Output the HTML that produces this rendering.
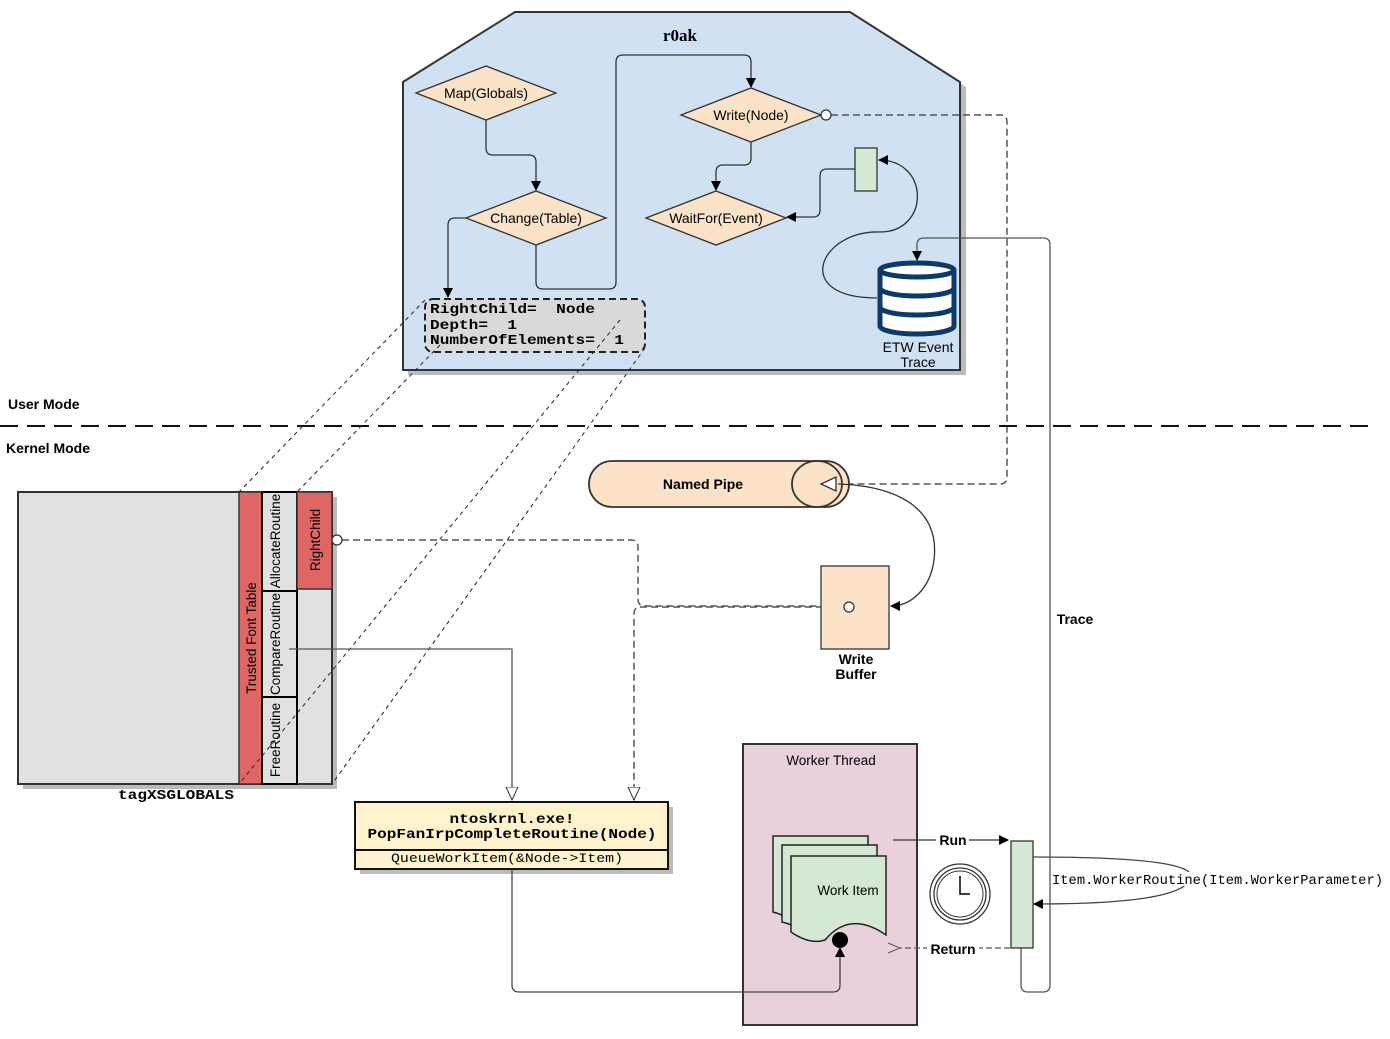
<!DOCTYPE html>
<html><head><meta charset="utf-8"><style>
html,body{margin:0;padding:0;background:#fff;}
svg{display:block;}
text{font-family:"Liberation Sans",sans-serif;}
.m{font-family:"Liberation Mono",monospace;font-weight:bold;white-space:pre;}
.mn{font-family:"Liberation Mono",monospace;white-space:pre;}
</style></head><body>
<svg width="1390" height="1039" viewBox="0 0 1390 1039" xmlns="http://www.w3.org/2000/svg" xml:space="preserve">
<defs>
<marker id="a" markerWidth="10" markerHeight="10" refX="9" refY="5" orient="auto" markerUnits="userSpaceOnUse"><path d="M0,0 L10,5 L0,10 z" fill="#000"/></marker>
<marker id="ho" markerWidth="14" markerHeight="14" refX="13" refY="7" orient="auto" markerUnits="userSpaceOnUse"><path d="M0,1 L13,7 L0,13 z" fill="#fff" stroke="#333"/></marker>
<marker id="op" markerWidth="14" markerHeight="12" refX="1" refY="6" orient="auto" markerUnits="userSpaceOnUse"><path d="M13,1 L1,6 L13,11" fill="none" stroke="#555"/></marker>
</defs>
<polygon points="408,87 520,17 855,17 966,87 966,375 408,375" fill="#bbb"/>
<polygon points="403,82 515,12 850,12 960,82 960,370 403,370" fill="#cfe1f2" stroke="#333" stroke-width="2"/>
<text x="680" y="41" font-weight="bold" font-size="17" text-anchor="middle" style="font-family:'Liberation Serif',serif">r0ak</text>
<path d="M486,120 V148 Q486,155 493,155 H529 Q536,155 536,162 V190" fill="none" stroke="#333" stroke-width="1.3" marker-end="url(#a)"/>
<path d="M536,245 V282 Q536,289 543,289 H609 Q616,289 616,282 V62 Q616,55 623,55 H744 Q751,55 751,62 V87" fill="none" stroke="#333" stroke-width="1.3" marker-end="url(#a)"/>
<path d="M751,142 V158 Q751,165 744,165 H723 Q716,165 716,172 V190" fill="none" stroke="#333" stroke-width="1.3" marker-end="url(#a)"/>
<path d="M466,218 H455 Q448,218 448,225 V297" fill="none" stroke="#333" stroke-width="1.3" marker-end="url(#a)"/>
<path d="M855,169 H827 Q820,169 820,176 V210 Q820,217 813,217 H787" fill="none" stroke="#333" stroke-width="1.3" marker-end="url(#a)"/>
<path d="M877,298 C790,298 820,230 880,232 C930,232 930,160 879,160" fill="none" stroke="#333" stroke-width="1.3" marker-end="url(#a)"/>
<polygon points="416,93 486,66 556,93 486,120" fill="#fce3c8" stroke="#333" stroke-width="1.3"/>
<text x="486" y="98" font-size="14" text-anchor="middle">Map(Globals)</text>
<polygon points="681,115 751,88 821,115 751,142" fill="#fce3c8" stroke="#333" stroke-width="1.3"/>
<text x="751" y="120" font-size="14" text-anchor="middle">Write(Node)</text>
<polygon points="466,218 536,191 606,218 536,245" fill="#fce3c8" stroke="#333" stroke-width="1.3"/>
<text x="536" y="223" font-size="14" text-anchor="middle">Change(Table)</text>
<polygon points="646,218 716,191 786,218 716,245" fill="#fce3c8" stroke="#333" stroke-width="1.3"/>
<text x="716" y="223" font-size="14" text-anchor="middle">WaitFor(Event)</text>
<rect x="855" y="148" width="22" height="43" fill="#d5e8d4" stroke="#333" stroke-width="1.3"/>
<g stroke="#0b3a6b" stroke-width="5" fill="#fff">
<path d="M880,270 V326 A37,8 0 0 0 954,326 V270"/>
<ellipse cx="917" cy="270" rx="37" ry="7"/>
<path d="M880,288 A37,8 0 0 0 954,288" fill="none"/>
<path d="M880,307 A37,8 0 0 0 954,307" fill="none"/>
</g>
<text x="918" y="352" font-size="14" text-anchor="middle">ETW Event</text>
<text x="918" y="367" font-size="14" text-anchor="middle">Trace</text>
<rect x="425" y="299" width="220" height="53" rx="8" fill="#d9d9d9" stroke="#222" stroke-width="2" stroke-dasharray="7,4"/>
<text class="m" x="430" y="313" font-size="14" textLength="165" lengthAdjust="spacingAndGlyphs">RightChild=  Node</text>
<text class="m" x="430" y="329" font-size="14" textLength="87" lengthAdjust="spacingAndGlyphs">Depth=  1</text>
<text class="m" x="430" y="344" font-size="14" textLength="194" lengthAdjust="spacingAndGlyphs">NumberOfElements=  1</text>
<path d="M831,115 H1000 Q1007,115 1007,122 V477 Q1007,484 1000,484 H836" fill="none" stroke="#555" stroke-width="1.5" stroke-dasharray="7,4"/>
<circle cx="826" cy="115" r="5" fill="#fff" stroke="#333" stroke-width="1.3"/>
<text x="8" y="409" font-size="14" font-weight="bold">User Mode</text>
<line x1="0" y1="426" x2="1375" y2="426" stroke="#111" stroke-width="2" stroke-dasharray="18,9"/>
<text x="6" y="453" font-size="14" font-weight="bold">Kernel Mode</text>
<rect x="23" y="497" width="314" height="292" fill="#bbb"/>
<rect x="18" y="492" width="314" height="292" fill="#e1e1e1" stroke="#333" stroke-width="2"/>
<rect x="239" y="492" width="23" height="292" fill="#e06666" stroke="#333" stroke-width="1.5"/>
<rect x="262" y="492" width="35" height="99" fill="#e1e1e1" stroke="#000" stroke-width="2"/>
<rect x="262" y="591" width="35" height="106" fill="#e1e1e1" stroke="#000" stroke-width="2"/>
<rect x="262" y="697" width="35" height="87" fill="#e1e1e1" stroke="#000" stroke-width="2"/>
<rect x="297" y="492" width="35" height="97" fill="#e06666" stroke="#333" stroke-width="1.5"/>
<text transform="translate(256,638) rotate(-90)" font-size="13.5" text-anchor="middle">Trusted Font Table</text>
<text transform="translate(280,541) rotate(-90)" font-size="13.5" text-anchor="middle">AllocateRoutine</text>
<text transform="translate(280,644) rotate(-90)" font-size="13.5" text-anchor="middle">CompareRoutine</text>
<text transform="translate(280,740) rotate(-90)" font-size="13.5" text-anchor="middle">FreeRoutine</text>
<text transform="translate(320,540) rotate(-90)" font-size="13.5" text-anchor="middle">RightChild</text>
<text class="m" x="118" y="799" font-size="14" textLength="116" lengthAdjust="spacingAndGlyphs">tagXSGLOBALS</text>
<g stroke="#222" stroke-width="1" stroke-dasharray="4,4" fill="none">
<line x1="425" y1="300" x2="239" y2="492"/>
<line x1="440" y1="345" x2="297" y2="492"/>
<line x1="620" y1="320" x2="239" y2="784"/>
<line x1="645" y1="348" x2="332" y2="784"/>
</g>
<path d="M342,540 H631 Q638,540 638,547 V599 Q638,606 645,606 H845" fill="none" stroke="#555" stroke-width="1.5" stroke-dasharray="7,4"/>
<path d="M845,607 H641 Q634,607 634,614 V800" fill="none" stroke="#555" stroke-width="1.5" stroke-dasharray="7,4" marker-end="url(#ho)"/>
<circle cx="337" cy="540" r="5" fill="#fff" stroke="#333" stroke-width="1.3"/>
<path d="M289,649 H512 V800" fill="none" stroke="#555" stroke-width="1.3" marker-end="url(#ho)"/>
<path d="M612,461 H826 A23,23 0 0 1 826,507 H612 A23,23 0 0 1 612,461 Z" fill="#fce3c8" stroke="#333" stroke-width="1.8"/>
<ellipse cx="817" cy="484" rx="25" ry="23" fill="#fce3c8" stroke="#333" stroke-width="1.8"/>
<text x="703" y="489" font-size="14" font-weight="bold" text-anchor="middle">Named Pipe</text>
<path d="M836,477 L821,484 L836,491 Z" fill="#fff" stroke="#333" stroke-width="1.3"/>
<path d="M838,484 C900,486 940,510 934,560 C930,590 910,606 891,606" fill="none" stroke="#333" stroke-width="1.3" marker-end="url(#a)"/>
<rect x="821" y="566" width="68" height="83" fill="#fce3c8" stroke="#333" stroke-width="1.3"/>
<circle cx="849" cy="607" r="5" fill="#fff" stroke="#333" stroke-width="1.3"/>
<text x="856" y="664" font-size="14" font-weight="bold" text-anchor="middle">Write</text>
<text x="856" y="679" font-size="14" font-weight="bold" text-anchor="middle">Buffer</text>
<path d="M1021,948 V985 Q1021,992 1028,992 H1043 Q1050,992 1050,985 V245 Q1050,238 1043,238 H924 Q917,238 917,245 V260" fill="none" stroke="#555" stroke-width="1.3" marker-end="url(#a)"/>
<text x="1075" y="624" font-size="14" font-weight="bold" text-anchor="middle">Trace</text>
<rect x="360" y="807" width="313" height="67" fill="#bbb"/>
<rect x="355" y="802" width="313" height="67" fill="#fff2cc" stroke="#111" stroke-width="2"/>
<line x1="355" y1="850" x2="668" y2="850" stroke="#111" stroke-width="2"/>
<text class="m" x="512" y="823" font-size="14" text-anchor="middle" textLength="125" lengthAdjust="spacingAndGlyphs">ntoskrnl.exe!</text>
<text class="m" x="512" y="838" font-size="14" text-anchor="middle" textLength="289" lengthAdjust="spacingAndGlyphs">PopFanIrpCompleteRoutine(Node)</text>
<text class="mn" x="507" y="862" font-size="13" text-anchor="middle" textLength="232" lengthAdjust="spacingAndGlyphs">QueueWorkItem(&amp;Node-&gt;Item)</text>
<rect x="743" y="744" width="174" height="281" fill="#e9d0dc" stroke="#333" stroke-width="2"/>
<text x="831" y="765" font-size="13.5" text-anchor="middle">Worker Thread</text>
<path d="M512,869 V985 Q512,992 519,992 H833 Q840,992 840,985 V948" fill="none" stroke="#444" stroke-width="1.3" marker-end="url(#a)"/>
<g fill="#d5e8d4" stroke="#222" stroke-width="1.5">
<path d="M773,836 H868 V915 Q830,900 800,925 Q785,915 773,912 Z"/>
<path d="M782,845 H877 V925 Q840,910 810,935 Q795,925 782,922 Z"/>
<path d="M791,856 H886 V935 Q850,910 825,940 Q810,945 791,932 Z"/>
</g>
<text x="848" y="895" font-size="13.5" text-anchor="middle">Work Item</text>
<circle cx="840" cy="940" r="8" fill="#000"/>
<circle cx="960" cy="894" r="30" fill="#fff" stroke="#333" stroke-width="1.3"/>
<circle cx="960" cy="894" r="26" fill="#fff" stroke="#333" stroke-width="1.3"/>
<circle cx="960" cy="894" r="23" fill="#fff" stroke="#333" stroke-width="1"/>
<path d="M960,876 V894 H970" fill="none" stroke="#000" stroke-width="1.5"/>
<path d="M893,840 H1008" fill="none" stroke="#333" stroke-width="1.3" marker-end="url(#a)"/>
<rect x="936" y="832" width="33" height="16" fill="#fff"/>
<text x="953" y="845" font-size="14" font-weight="bold" text-anchor="middle">Run</text>
<path d="M1010,948 H900" fill="none" stroke="#555" stroke-width="1.3" stroke-dasharray="6,3" marker-end="url(#op)"/>
<rect x="927" y="940" width="52" height="16" fill="#fff"/>
<text x="953" y="954" font-size="14" font-weight="bold" text-anchor="middle">Return</text>
<rect x="1011" y="841" width="22" height="107" fill="#d5e8d4" stroke="#333" stroke-width="1.3"/>
<path d="M1033,857 C1150,857 1200,865 1190,880 C1180,898 1120,904 1034,904" fill="none" stroke="#444" stroke-width="1.3" marker-end="url(#a)"/>
<rect x="1052" y="872" width="332" height="14" fill="#fff"/>
<text class="mn" x="1052" y="884" font-size="13.5" textLength="331" lengthAdjust="spacingAndGlyphs">Item.WorkerRoutine(Item.WorkerParameter)</text>
</svg>
</body></html>
